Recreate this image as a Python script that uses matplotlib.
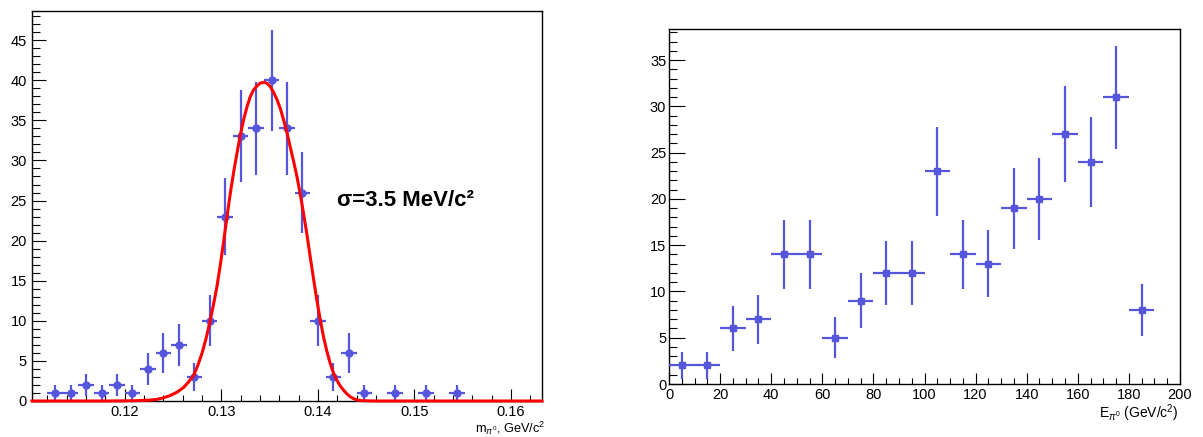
import numpy as np
import matplotlib
matplotlib.use("Agg")
import matplotlib.pyplot as plt
from matplotlib.ticker import MultipleLocator, FormatStrFormatter

plt.rcParams['font.family'] = ['Liberation Sans', 'DejaVu Sans']
plt.rcParams['mathtext.fontset'] = 'custom'
plt.rcParams['mathtext.rm'] = 'Liberation Sans'
plt.rcParams['mathtext.it'] = 'Liberation Sans:italic'
plt.rcParams['mathtext.bf'] = 'Liberation Sans:bold'

# ---------------- data ----------------
# left: invariant mass histogram (33 bins of 0.0016 GeV starting at 0.1104)
mass_xmin = 0.1104
mass_binw = 0.0016
mass_counts = [0, 1, 1, 2, 1, 2, 1, 4, 6, 7, 3, 10, 23, 33, 34, 40, 34, 26, 10, 3,
               6, 1, 0, 1, 0, 1, 0, 1, 0, 0, 0, 0, 0]

# fitted curve
curve_x = [0.1104, 0.1180, 0.1210, 0.1225, 0.1233, 0.12403, 0.12473, 0.12542, 0.12610,
           0.12659, 0.12713, 0.12757, 0.12800, 0.12840, 0.12879, 0.12917, 0.12955,
           0.12990, 0.13024, 0.13059, 0.13093, 0.13127, 0.13162, 0.13196, 0.13231,
           0.13266, 0.13300, 0.13334, 0.13369, 0.13403, 0.13445, 0.13476, 0.13507,
           0.13541, 0.13576, 0.13610, 0.13644, 0.13679, 0.13713, 0.13748, 0.13783,
           0.13817, 0.13851, 0.13886, 0.13920, 0.13954, 0.13989, 0.14023, 0.14058,
           0.14093, 0.14127, 0.14161, 0.14196, 0.14230, 0.14264, 0.14299, 0.14333,
           0.14368, 0.14403, 0.14458, 0.1460, 0.1632]
curve_y = [0.0, 0.0, 0.03, 0.1, 0.2, 0.4, 0.7, 1.1, 1.7,
           2.35, 3.2, 4.45, 5.95, 7.7, 9.7, 11.9, 14.3,
           17.0, 19.9, 23.0, 25.9, 28.5, 30.9, 33.1, 35.1,
           36.7, 37.97, 38.8, 39.3, 39.65, 39.75, 39.6, 39.2,
           38.5, 37.6, 36.5, 35.1, 33.5, 31.7, 29.9, 28.0,
           25.8, 23.4, 20.8, 18.0, 15.3, 12.6, 10.2, 8.0,
           6.2, 4.7, 3.5, 2.6, 1.9, 1.37, 0.9, 0.54,
           0.3, 0.12, 0.03, 0.0, 0.0]

# right: energy histogram (20 bins of 10 GeV from 0 to 200)
energy_xmin = 0.0
energy_binw = 10.0
energy_counts = [2, 2, 6, 7, 14, 14, 5, 9, 12, 12, 23, 14, 13, 19, 20, 27, 24, 31, 8, 0]

sigma_label = "σ=3.5 MeV/c²"
mass_xlabel = r"m$_{\pi^{0}}$, GeV/c$^{2}$"
energy_xlabel = r"E$_{\pi^{0}}$ (GeV/c$^{2}$)"

# ---------------- style ----------------
pt_color = '#5656dc'
W, H = 1203, 437
fig = plt.figure(figsize=(W / 100, H / 100), dpi=100)


def px_axes(x0, y0, x1, y1):
    return fig.add_axes([x0 / W, 1 - y1 / H, (x1 - x0) / W, (y1 - y0) / H])


def style_axes(ax, ymaj_len, ymin_len, xmaj_len, xmin_len, ypad, xpad):
    for s in ax.spines.values():
        s.set_linewidth(1.0)
        s.set_color('black')
    ax.tick_params(which='both', direction='in', top=False, right=False,
                   width=0.8, labelsize=10.5, colors='black')
    ax.tick_params(axis='y', which='major', length=ymaj_len, pad=ypad)
    ax.tick_params(axis='y', which='minor', length=ymin_len)
    ax.tick_params(axis='x', which='major', length=xmaj_len, pad=xpad)
    ax.tick_params(axis='x', which='minor', length=xmin_len)


def draw_hist(ax, xmin, binw, counts, marker, ms):
    counts = np.asarray(counts, dtype=float)
    centers = xmin + binw * (np.arange(len(counts)) + 0.5)
    m = counts > 0
    ax.errorbar(centers[m], counts[m], xerr=binw / 2, yerr=np.sqrt(counts[m]),
                fmt=marker, color=pt_color, ms=ms, elinewidth=1.6,
                capsize=0, mec=pt_color, mfc=pt_color, zorder=3)


# ---- left panel ----
ax1 = px_axes(32, 11, 542, 401)
draw_hist(ax1, mass_xmin, mass_binw, mass_counts, 'o', 5.0)
ax1.plot(curve_x, curve_y, color='#ff0000', lw=2.2, zorder=4, clip_on=False,
         solid_joinstyle='round')
ax1.set_xlim(mass_xmin, mass_xmin + mass_binw * len(mass_counts))
ax1.set_ylim(0, 48.64)
ax1.xaxis.set_major_locator(MultipleLocator(0.01))
ax1.xaxis.set_minor_locator(MultipleLocator(0.002))
ax1.xaxis.set_major_formatter(FormatStrFormatter('%.2f'))
ax1.yaxis.set_major_locator(MultipleLocator(5))
ax1.yaxis.set_minor_locator(MultipleLocator(1))
style_axes(ax1, 10, 5.5, 8.6, 4.3, 3.7, 3.0)
ax1.text(0.14196, 24.3, sigma_label, fontsize=16, fontweight='bold',
         ha='left', va='baseline')
ax1.text(1.006, -0.069, mass_xlabel, transform=ax1.transAxes, ha='right',
         va='center', fontsize=9.2)

# ---- right panel ----
ax2 = px_axes(669, 28.7, 1180, 384)
draw_hist(ax2, energy_xmin, energy_binw, energy_counts, 's', 5.0)
ax2.set_xlim(0, 200)
ax2.set_ylim(0, 38.4)
ax2.xaxis.set_major_locator(MultipleLocator(20))
ax2.xaxis.set_minor_locator(MultipleLocator(5))
ax2.yaxis.set_major_locator(MultipleLocator(5))
ax2.yaxis.set_minor_locator(MultipleLocator(1))
style_axes(ax2, 11.3, 5.8, 7.7, 4.1, 2.0, 3.0)
ax2.text(0.998, -0.082, energy_xlabel, transform=ax2.transAxes, ha='right',
         va='center', fontsize=10)

fig.savefig('out.png', dpi=100)
